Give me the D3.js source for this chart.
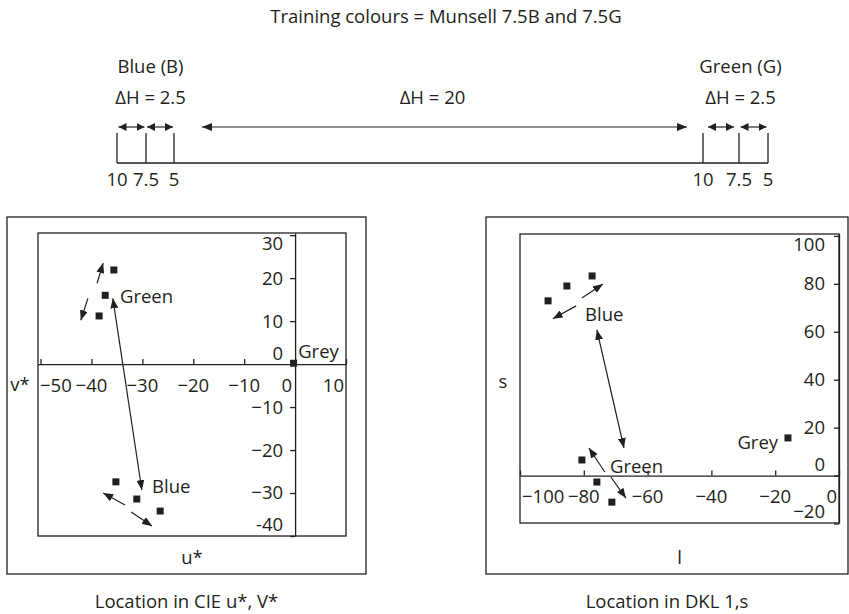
<!DOCTYPE html>
<html>
<head>
<meta charset="utf-8">
<script src="https://cdn.jsdelivr.net/npm/d3@7"></script>
<style>
body { margin:0; background:#fff; }
text { font-family:"Open Sans", sans-serif; fill:#231f20; }
</style>
</head>
<body>
<script>
var width = 849;
var height = 614;
var ink = "#231f20";
var fs = 18.5;

// top strip: Munsell hue steps (hue distance counted from 10B)
var hueTicks = [0, 2.5, 5, 20, 22.5, 25];
var hueLabels = ["10", "7.5", "5", "10", "7.5", "5"];
var hueGroups = ["Blue (B)", "Green (G)"];
var hueSteps = ["\u0394H = 2.5", "\u0394H = 2.5"];
var hueGapLabel = "\u0394H = 20";
var titleText = "Training colours = Munsell 7.5B and 7.5G";

// CIE u*, v* panel
var cieUTicks = [-50, -40, -30, -20, -10, 0, 10];
var cieULabels = ["\u221250", "\u221240", "\u221230", "\u221220", "\u221210", "0", "10"];
var cieVTicks = [30, 20, 10, 0, -10, -20, -30, -40];
var cieVLabels = ["30", "20", "10", "0", "\u221210", "\u221220", "\u221230", "-40"];
var cieGreen = [[-35.6, 21.9], [-37.3, 16.0], [-38.5, 11.2]];
var cieBlue = [[-35.2, -27.4], [-31.1, -31.4], [-26.5, -34.2]];
var cieGrey = [[-0.3, 0.2]];
// [x1, y1, x2, y2, head at both ends]
var cieArrows = [
  [-38.9, 18.8, -37.7, 23.5, false],
  [-40.7, 15.3, -42.1, 10.2, false],
  [-35.8, 15.3, -30.1, -29.3, true],
  [-33.4, -32.8, -37.7, -30.0, false],
  [-32.2, -34.4, -28.1, -37.7, false]
];
var cieNames = [["Green", -34.4, 15.8, "start"], ["Blue", -28.1, -28.6, "start"], ["Grey", 0.6, 3.0, "start"]];

// DKL l, s panel
var dklLTicks = [-100, -80, -60, -40, -20, 0];
var dklLLabels = ["\u2212100", "\u221280", "\u221260", "\u221240", "\u221220", "0"];
var dklSTicks = [100, 80, 60, 40, 20, 0, -20];
var dklSLabels = ["100", "80", "60", "40", "20", "0", "\u221220"];
var dklBlue = [[-91.2, 72.9], [-85.3, 79.1], [-77.4, 83.3]];
var dklGreen = [[-80.6, 6.5], [-75.9, -2.7], [-71.2, -11.1]];
var dklGrey = [[-16.0, 15.7]];
var dklArrows = [
  [-80.6, 74.1, -74.0, 79.9, false],
  [-82.4, 70.8, -89.7, 65.4, false],
  [-75.9, 60.8, -67.4, 11.5, true],
  [-73.4, 1.5, -78.4, 11.5, false],
  [-71.5, -0.6, -66.8, -9.4, false]
];
var dklNames = [["Blue", -79.6, 67.4, "start"], ["Green", -71.8, 3.8, "start"], ["Grey", -19.1, 13.6, "end"]];

var svg = d3.select("body").append("svg").attr("width", width).attr("height", height);

// arrow heads
var defs = svg.append("defs");
function addHead(id, len, wid) {
  defs.append("marker")
    .attr("id", id)
    .attr("viewBox", "0 0 " + len + " " + wid)
    .attr("refX", len).attr("refY", wid / 2)
    .attr("markerWidth", len).attr("markerHeight", wid)
    .attr("markerUnits", "userSpaceOnUse")
    .attr("orient", "auto-start-reverse")
    .append("path")
      .attr("d", "M0,0L" + len + "," + (wid / 2) + "L0," + wid + "Z")
      .attr("fill", ink);
}
addHead("head", 10, 8);
addHead("headS", 8, 8);

// ---- title + hue strip ----
svg.append("text").attr("x", 446).attr("y", 17).attr("dy", "0.35em")
  .attr("text-anchor", "middle").style("font-size", fs + "px").text(titleText);

var hx = d3.scaleLinear().domain(hueTicks).range([117, 146, 174, 703, 739, 768]);
var strip = svg.append("g");
var lineY = 163, tickTop = 133, arrowY = 127;

strip.append("line")
  .attr("x1", hx(hueTicks[0])).attr("x2", hx(hueTicks[hueTicks.length - 1]))
  .attr("y1", lineY).attr("y2", lineY)
  .attr("stroke", ink).attr("stroke-width", 1.3);

strip.selectAll(".htick")
  .data(hueTicks)
  .enter().append("line")
    .attr("class", "htick")
    .attr("x1", function(d){ return hx(d); }).attr("x2", function(d){ return hx(d); })
    .attr("y1", tickTop).attr("y2", lineY)
    .attr("stroke", ink).attr("stroke-width", 1.3);

strip.selectAll(".hlab")
  .data(hueLabels)
  .enter().append("text")
    .attr("class", "hlab")
    .attr("x", function(d, i){ return hx(hueTicks[i]); })
    .attr("y", 180).attr("dy", "0.35em")
    .attr("text-anchor", "middle")
    .style("font-size", fs + "px")
    .text(function(d){ return d; });

// short arrows between neighbouring ticks inside a group
var stepPairs = [[0, 1], [1, 2], [3, 4], [4, 5]];
strip.selectAll(".hstep")
  .data(stepPairs)
  .enter().append("line")
    .attr("class", "hstep")
    .attr("x1", function(d){ return (hx(hueTicks[d[0]]) + hx(hueTicks[d[1]])) / 2 - 13; })
    .attr("x2", function(d){ return (hx(hueTicks[d[0]]) + hx(hueTicks[d[1]])) / 2 + 13; })
    .attr("y1", arrowY).attr("y2", arrowY)
    .attr("stroke", ink).attr("stroke-width", 1.2)
    .attr("marker-start", "url(#headS)").attr("marker-end", "url(#headS)");

// long arrow between the groups
strip.append("line")
  .attr("x1", hx(hueTicks[2]) + 28).attr("x2", hx(hueTicks[3]) - 16)
  .attr("y1", arrowY).attr("y2", arrowY)
  .attr("stroke", ink).attr("stroke-width", 1.2)
  .attr("marker-start", "url(#head)").attr("marker-end", "url(#head)");

strip.append("text")
  .attr("x", (hx(hueTicks[2]) + hx(hueTicks[3])) / 2 - 6).attr("y", 98).attr("dy", "0.35em")
  .attr("text-anchor", "middle").style("font-size", fs + "px").text(hueGapLabel);

[[0, 2], [3, 5]].forEach(function(grp, i){
  var cx = (hx(hueTicks[grp[0]]) + hx(hueTicks[grp[1]])) / 2 + 5;
  strip.append("text").attr("x", cx).attr("y", 67).attr("dy", "0.35em")
    .attr("text-anchor", "middle").style("font-size", fs + "px").text(hueGroups[i]);
  strip.append("text").attr("x", cx).attr("y", 98).attr("dy", "0.35em")
    .attr("text-anchor", "middle").style("font-size", fs + "px").text(hueSteps[i]);
});

// ---- scatter panels ----
function panel(cfg) {
  var g = svg.append("g");
  var o = cfg.outer, b = cfg.inner;

  g.append("rect")
    .attr("x", o[0]).attr("y", o[1]).attr("width", o[2] - o[0]).attr("height", o[3] - o[1])
    .attr("fill", "none").attr("stroke", ink).attr("stroke-width", 1.3);
  g.append("rect")
    .attr("x", b[0]).attr("y", b[1]).attr("width", b[2] - b[0]).attr("height", b[3] - b[1])
    .attr("fill", "none").attr("stroke", ink).attr("stroke-width", 1.3);

  var x = d3.scaleLinear().domain(cfg.xDomain).range([b[0], b[2]]);
  var y = d3.scaleLinear().domain(cfg.yDomain).range([b[3], b[1]]);

  // axes cross at the origin
  g.append("g").attr("transform", "translate(0," + y(0) + ")")
    .call(d3.axisTop(x).tickValues(cfg.xTicks).tickSize(5).tickSizeOuter(0).tickFormat(""));
  g.append("g").attr("transform", "translate(" + x(0) + ",0)")
    .call(d3.axisLeft(y).tickValues(cfg.yTicks).tickSize(5).tickSizeOuter(0).tickFormat(""));
  g.selectAll(".domain, .tick line").attr("stroke", ink).attr("stroke-width", 1.3);

  // x tick labels: kept inside the frame, "0" moved off the vertical axis
  g.selectAll(".xlab")
    .data(cfg.xLabels)
    .enter().append("text")
      .attr("class", "xlab")
      .attr("y", y(0) + 21).attr("dy", "0.35em")
      .attr("text-anchor", "middle")
      .style("font-size", fs + "px")
      .text(function(d){ return d; })
      .attr("x", function(d, i){
        var v = cfg.xTicks[i], w = this.getComputedTextLength() / 2;
        var px = x(v);
        if (v === 0 && x(0) < b[2] - 20) px = x(0) - 3 - w;
        return Math.max(b[0] + 2 + w, Math.min(b[2] - 2 - w, px));
      });

  // y tick labels, right aligned at the vertical axis
  g.selectAll(".ylab")
    .data(cfg.yLabels)
    .enter().append("text")
      .attr("class", "ylab")
      .attr("x", x(0) - cfg.yLabelGap)
      .attr("dy", "0.35em")
      .attr("text-anchor", "end")
      .style("font-size", fs + "px")
      .text(function(d){ return d; })
      .attr("y", function(d, i){
        var v = cfg.yTicks[i];
        if (v === 0) return y(0) - 11;
        return Math.max(b[1] + 11, Math.min(b[3] - 11, y(v)));
      });

  // points
  var pts = cfg.series.reduce(function(a, s){ return a.concat(s); }, []);
  g.selectAll(".pt")
    .data(pts)
    .enter().append("rect")
      .attr("class", "pt")
      .attr("x", function(d){ return x(d[0]) - 3.5; })
      .attr("y", function(d){ return y(d[1]) - 3.5; })
      .attr("width", 7).attr("height", 7)
      .attr("fill", ink);

  // arrows
  g.selectAll(".arr")
    .data(cfg.arrows)
    .enter().append("line")
      .attr("class", "arr")
      .attr("x1", function(d){ return x(d[0]); })
      .attr("y1", function(d){ return y(d[1]); })
      .attr("x2", function(d){ return x(d[2]); })
      .attr("y2", function(d){ return y(d[3]); })
      .attr("stroke", ink).attr("stroke-width", 1.2)
      .attr("marker-start", function(d){ return d[4] ? "url(#head)" : null; })
      .attr("marker-end", "url(#head)");

  // series names
  g.selectAll(".name")
    .data(cfg.names)
    .enter().append("text")
      .attr("class", "name")
      .attr("x", function(d){ return x(d[1]); })
      .attr("y", function(d){ return y(d[2]); })
      .attr("dy", "0.35em")
      .attr("text-anchor", function(d){ return d[3]; })
      .style("font-size", fs + "px")
      .text(function(d){ return d[0]; });

  // axis titles and caption
  g.append("text").attr("x", cfg.yTitle[1]).attr("y", cfg.yTitle[2]).attr("dy", "0.35em")
    .attr("text-anchor", "middle").style("font-size", fs + "px").text(cfg.yTitle[0]);
  g.append("text").attr("x", (b[0] + b[2]) / 2).attr("y", o[3] - 16).attr("dy", "0.35em")
    .attr("text-anchor", "middle").style("font-size", fs + "px").text(cfg.xTitle);
  g.append("text").attr("x", (o[0] + o[2]) / 2).attr("y", 602).attr("dy", "0.35em")
    .attr("text-anchor", "middle").style("font-size", fs + "px").text(cfg.caption);
}

panel({
  outer: [7, 217, 366, 574],
  inner: [38, 233, 346, 536],
  xDomain: [-50.5, 10], yDomain: [-40, 30.5],
  xTicks: cieUTicks, xLabels: cieULabels,
  yTicks: cieVTicks, yLabels: cieVLabels, yLabelGap: 12,
  series: [cieGreen, cieBlue, cieGrey],
  arrows: cieArrows,
  names: cieNames,
  yTitle: ["v*", 20, 385],
  xTitle: "u*",
  caption: "Location in CIE u*, V*"
});

panel({
  outer: [486, 217, 848, 574],
  inner: [520, 234, 839, 523],
  xDomain: [-100, 0], yDomain: [-19.8, 100.8],
  xTicks: dklLTicks, xLabels: dklLLabels,
  yTicks: dklSTicks, yLabels: dklSLabels, yLabelGap: 14,
  series: [dklBlue, dklGreen, dklGrey],
  arrows: dklArrows,
  names: dklNames,
  yTitle: ["s", 503, 382],
  xTitle: "l",
  caption: "Location in DKL 1,s"
});
</script>
</body>
</html>
